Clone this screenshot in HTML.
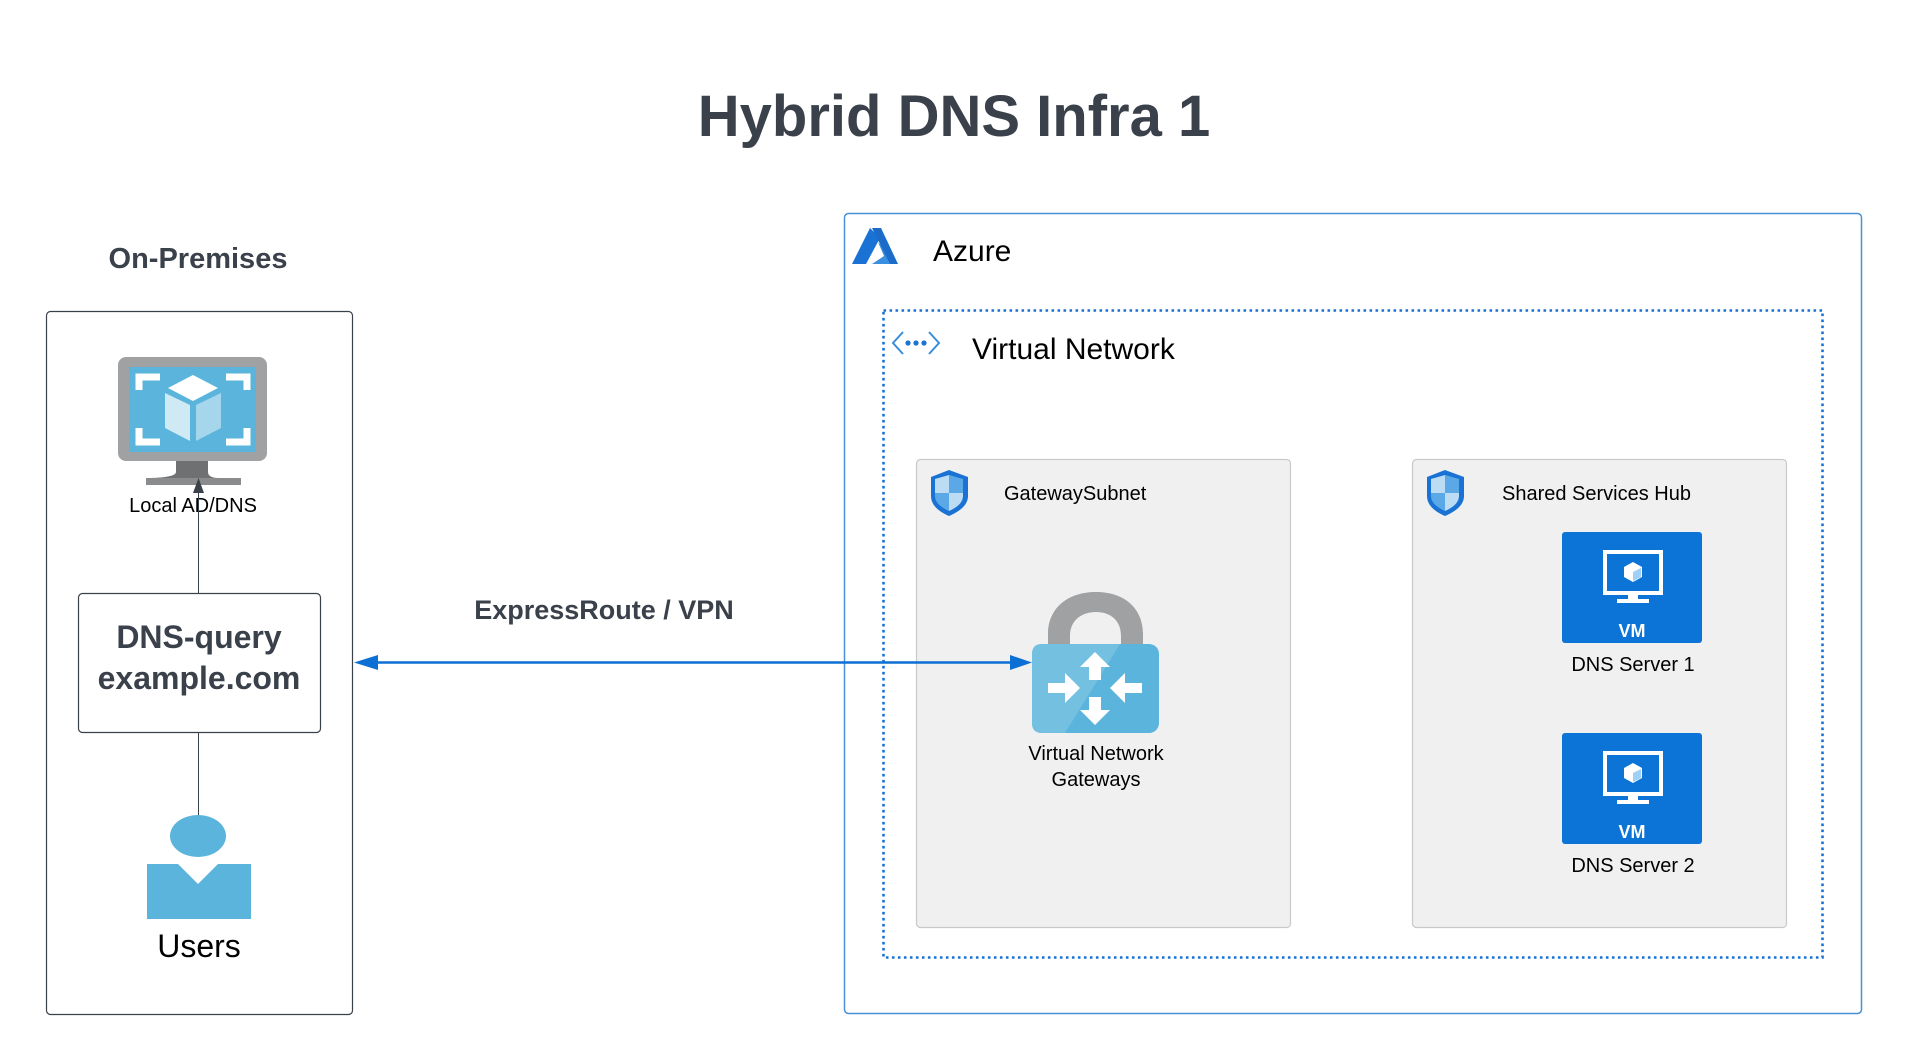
<!DOCTYPE html>
<html><head><meta charset="utf-8"><style>
html,body{margin:0;padding:0;background:#fff;}
svg{display:block;font-family:"Liberation Sans",Arial,sans-serif;}
</style></head><body>
<svg width="1909" height="1060" viewBox="0 0 1909 1060" xmlns="http://www.w3.org/2000/svg">
<rect width="1909" height="1060" fill="#fff"/>
<text x="954" y="136" font-size="58" font-weight="bold" fill="#3a414a" text-anchor="middle">Hybrid DNS Infra 1</text>

<!-- On-premises -->
<text x="198" y="268" font-size="29" font-weight="bold" fill="#3a414a" text-anchor="middle">On-Premises</text>
<rect x="46.5" y="311.5" width="306" height="703" rx="4" fill="#fff" stroke="#3a414a" stroke-width="1.2"/>
<rect x="118" y="357" width="149" height="104" rx="8" fill="#a0a1a3"/>
<rect x="129" y="367" width="127" height="85" fill="#5ab4db"/>
<g fill="none" stroke="#fff" stroke-width="7">
<path d="M139 390 V377 H160"/><path d="M226 377 H247 V390"/><path d="M139 428 V442 H160"/><path d="M226 442 H247 V428"/>
</g>
<path d="M193 375 L218 388 L193 401 L168 388 Z" fill="#fff"/>
<path d="M165 393 L190 405 L190 441 L165 428 Z" fill="#cfe9f5"/>
<path d="M196 405 L221 393 L221 428 L196 441 Z" fill="#a6d6ec"/>
<path d="M176 461 H208 V472 C208 476 212 478 218 478 V485 H146 V478 C152 478 176 478 176 472 Z" fill="#6f7072"/>
<rect x="146" y="478" width="95" height="7" fill="#8a8b8d"/>
<text x="193" y="512" font-size="20" fill="#000" text-anchor="middle">Local AD/DNS</text>
<line x1="198.5" y1="593" x2="198.5" y2="490" stroke="#3a414a" stroke-width="1"/>
<path d="M198.5 478 L204 493 L193 493 Z" fill="#3a414a"/>
<rect x="78.5" y="593.5" width="242" height="139" rx="4" fill="#fff" stroke="#3a414a" stroke-width="1.2"/>
<text x="199" y="648" font-size="32" font-weight="bold" fill="#3a414a" text-anchor="middle">DNS-query</text>
<text x="199" y="689" font-size="32" font-weight="bold" fill="#3a414a" text-anchor="middle">example.com</text>
<line x1="198.5" y1="733" x2="198.5" y2="816" stroke="#3a414a" stroke-width="1"/>
<ellipse cx="198" cy="836" rx="28" ry="21" fill="#5ab4db"/>
<path d="M147 864 H178 L198 884 L218 864 H251 V919 H147 Z" fill="#5ab4db"/>
<text x="199" y="957" font-size="32" fill="#000" text-anchor="middle">Users</text>

<text x="604" y="619" font-size="27" font-weight="bold" fill="#3a414a" text-anchor="middle">ExpressRoute / VPN</text>

<!-- Azure -->
<rect x="844.5" y="213.5" width="1017" height="800" rx="4" fill="none" stroke="#4a90d9" stroke-width="1.5"/>
<path d="M870 228 L852 264 L866 264 L880 238 Z" fill="#1a73d4"/>
<path d="M878 242 L898 264 L872 264 L884 256 Z" fill="#3b8fe0"/>
<path d="M872 228 L881 228 L898 264 L890 264 Z" fill="#1a6cc8"/>
<text x="933" y="261" font-size="30" fill="#000">Azure</text>

<rect x="883.5" y="310.5" width="939" height="647" fill="none" stroke="#1a73d4" stroke-width="2.6" stroke-dasharray="2.6 3.4"/>
<g fill="none" stroke="#3a8fdc" stroke-width="2"><path d="M903 332 L893 343 L903 354"/><path d="M929 332 L939 343 L929 354"/></g>
<circle cx="908" cy="343" r="2.6" fill="#1a73d4"/><circle cx="916" cy="343" r="2.6" fill="#1a73d4"/><circle cx="924" cy="343" r="2.6" fill="#1a73d4"/>
<text x="972" y="359" font-size="30" fill="#000">Virtual Network</text>

<!-- GatewaySubnet -->
<rect x="916.5" y="459.5" width="374" height="468" rx="4" fill="#f0f0f0" stroke="#c9c9c9" stroke-width="1.2"/>
<path d="M949 470 L968 477 V496 C968 506 958 512 949 516 C940 512 931 506 931 496 V477 Z" fill="#1a73d4"/>
<path d="M949 475 V493 H935 V479 Z" fill="#bcdcf3"/><path d="M949 493 H963 V496 C963 503 956 508 949 511 Z" fill="#bcdcf3"/>
<path d="M949 475 L963 479 V493 H949 Z" fill="#5aa8e6"/><path d="M935 493 H949 V511 C942 508 935 503 935 496 Z" fill="#5aa8e6"/>
<text x="1004" y="500" font-size="20" fill="#000">GatewaySubnet</text>
<path d="M1048 650 V634 C1048 608 1068 592 1096 592 C1124 592 1143 608 1143 634 V650 H1121 V636 C1121 620 1110 612 1096 612 C1082 612 1070 620 1070 636 V650 Z" fill="#a0a1a3"/>
<rect x="1032" y="644" width="127" height="89" rx="10" fill="#5ab4db"/>
<path d="M1042 644 H1120 L1065 733 H1042 Q1032 733 1032 723 V654 Q1032 644 1042 644 Z" fill="#73c0e0"/>
<g fill="#fff">
<path d="M1095 652 L1110 667 H1101 V680 H1089 V667 H1080 Z"/>
<path d="M1095 725 L1110 710 H1101 V697 H1089 V710 H1080 Z"/>
<path d="M1080 688 L1065 673 V683 H1048 V693 H1065 V703 Z"/>
<path d="M1110 688 L1125 673 V683 H1142 V693 H1125 V703 Z"/>
</g>
<text x="1096" y="760" font-size="20" fill="#000" text-anchor="middle">Virtual Network</text>
<text x="1096" y="786" font-size="20" fill="#000" text-anchor="middle">Gateways</text>

<!-- Shared Services Hub -->
<rect x="1412.5" y="459.5" width="374" height="468" rx="4" fill="#f0f0f0" stroke="#c9c9c9" stroke-width="1.2"/>
<g transform="translate(496,0)">
<path d="M949 470 L968 477 V496 C968 506 958 512 949 516 C940 512 931 506 931 496 V477 Z" fill="#1a73d4"/>
<path d="M949 475 V493 H935 V479 Z" fill="#bcdcf3"/><path d="M949 493 H963 V496 C963 503 956 508 949 511 Z" fill="#bcdcf3"/>
<path d="M949 475 L963 479 V493 H949 Z" fill="#5aa8e6"/><path d="M935 493 H949 V511 C942 508 935 503 935 496 Z" fill="#5aa8e6"/>
</g>
<text x="1502" y="500" font-size="20" fill="#000">Shared Services Hub</text>

<g id="vm1">
<rect x="1562" y="532" width="140" height="111" rx="3" fill="#0b74d6"/>
<rect x="1605" y="552" width="56" height="41" fill="none" stroke="#fff" stroke-width="4"/>
<rect x="1628" y="593" width="10" height="6" fill="#fff"/><rect x="1617" y="599" width="32" height="4" fill="#fff"/>
<path d="M1633 562 L1642 567 V577 L1633 582 L1624 577 V567 Z" fill="#fff"/>
<path d="M1633 572 L1641 568 V577 L1633 581 Z" fill="#9fd0f5"/>
<text x="1632" y="637" font-size="18" font-weight="bold" fill="#fff" text-anchor="middle">VM</text>
</g>
<use href="#vm1" transform="translate(0,201)"/>
<text x="1633" y="671" font-size="20" fill="#000" text-anchor="middle">DNS Server 1</text>
<text x="1633" y="872" font-size="20" fill="#000" text-anchor="middle">DNS Server 2</text>

<!-- ExpressRoute arrow (on top) -->
<line x1="370" y1="662.5" x2="1015" y2="662.5" stroke="#0b6fd4" stroke-width="2.5"/>
<path d="M354 662.5 L378 655 L378 670 Z" fill="#0b6fd4"/>
<path d="M1032 662.5 L1010 655 L1010 670 Z" fill="#0b6fd4"/>
</svg>
</body></html>
